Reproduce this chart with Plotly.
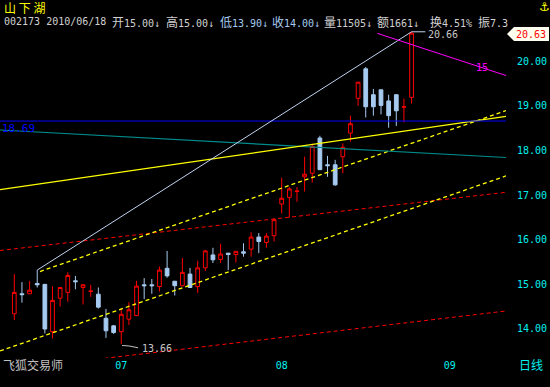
import plotly.graph_objects as go

# ---------------- data ----------------
idx = list(range(53))
opens = [14.34, 14.79, 14.79, 15.02, 15.00, 13.94, 14.69, 14.82, 15.08, 14.93,
         14.84, 14.78, 14.24, 14.07, 13.94, 14.22, 14.30, 14.99, 14.99, 14.95,
         15.36, 15.07, 14.97, 15.23, 14.95, 15.37, 15.66, 15.56, 15.70, 15.67,
         15.73, 15.79, 16.06, 15.94, 16.09, 16.80, 16.95, 17.08, 17.41, 17.49,
         18.28, 17.68, 17.68, 17.86, 18.39, 19.17, 19.83, 19.25, 19.36, 19.11,
         19.25, 18.97, 19.19]
highs = [15.23, 15.05, 15.08, 15.32, 15.00, 14.96, 14.93, 15.27, 15.19, 15.01,
         14.99, 14.93, 14.45, 14.09, 14.46, 14.60, 15.08, 15.14, 15.12, 15.40,
         15.75, 15.07, 15.59, 15.37, 15.53, 15.77, 15.82, 15.91, 15.70, 15.74,
         15.92, 16.17, 16.15, 16.15, 16.48, 17.39, 17.18, 17.18, 17.86, 18.15,
         18.33, 17.88, 17.79, 18.16, 18.78, 19.53, 19.87, 19.38, 19.36, 19.25,
         19.26, 19.16, 20.66]
lows = [14.20, 14.59, 14.79, 14.93, 13.90, 13.79, 14.50, 14.61, 14.89, 14.55,
        14.72, 14.46, 13.80, 13.89, 13.66, 14.09, 14.29, 14.67, 14.79, 14.84,
        15.15, 14.75, 14.96, 14.93, 14.81, 15.30, 15.48, 15.48, 15.32, 15.49,
        15.62, 15.62, 15.70, 15.82, 15.96, 16.59, 16.50, 16.85, 17.08, 17.28,
        17.57, 17.41, 17.21, 17.49, 18.20, 19.00, 18.74, 18.78, 18.81, 18.51,
        18.55, 18.63, 19.05]
closes = [14.82, 14.77, 14.87, 14.99, 14.00, 14.64, 14.93, 15.20, 15.06, 14.99,
          14.85, 14.49, 13.96, 13.92, 14.33, 14.43, 14.96, 14.97, 14.97, 15.32,
          15.19, 14.97, 15.27, 14.93, 15.37, 15.75, 15.55, 15.68, 15.67, 15.74,
          15.70, 16.06, 15.96, 16.08, 16.45, 16.93, 17.14, 17.09, 17.47, 18.09,
          17.57, 17.66, 17.23, 18.07, 18.60, 19.53, 18.98, 18.98, 19.01, 18.78,
          18.89, 18.98, 20.63]

month_ticks = [14, 35, 57]
month_labels = ["07", "08", "09"]
price_ticks = [14, 15, 16, 17, 18, 19, 20]
price_labels = ["14.00", "15.00", "16.00", "17.00", "18.00", "19.00", "20.00"]

# header quote fields (label, value)
quote_fields = [("开", "15.00↓"), ("高", "15.00↓"), ("低", "13.90↓"),
                ("收", "14.00↓"), ("量", "11505↓"), ("额", "1661↓"),
                ("换", "4.51%"), ("振", "7.3")]

# drawn trend lines (index, price)
white_x, white_y = [3, 52, 53.8], [15.32, 20.66, 20.66]
yellow_x, yellow_y = [-1.872, 64.36], [17.121, 18.764]
ydash_up_x, ydash_up_y = [3.36, 64.36], [15.288, 18.892]
ydash_lo_x, ydash_lo_y = [-1.872, 64.36], [13.507, 17.43]
rdash_up_x, rdash_up_y = [-1.872, 64.36], [15.759, 17.063]
rdash_lo_x, rdash_lo_y = [-1.872, 64.36], [13.065, 14.403]
teal_x, teal_y = [-1.872, 64.36], [18.459, 17.843]
hline_price = 18.66
magenta_x, magenta_y = [47.51, 64.36], [20.626, 19.68]
low_conn_x, low_conn_y = [14.1, 15.0, 16.2], [13.63, 13.62, 13.58]

# ---------------- figure ----------------
W, H = 550, 387
L, R, T, B = 0, 44, 30, 29
PW, PH = W - L - R, H - T - B
XR = [-1.872, 64.36]
YR = [13.35, 20.70]


def px(x):
    return (x - L) / PW


def py(y):
    return (H - B - y) / PH


UP = "#ff0000"
DOWN = "#a6caf0"

fig = go.Figure()
fig.add_trace(go.Candlestick(
    x=idx, open=opens, high=highs, low=lows, close=closes,
    increasing=dict(line=dict(color=UP, width=1), fillcolor="#000000"),
    decreasing=dict(line=dict(color=DOWN, width=1), fillcolor=DOWN),
    whiskerwidth=0, hoverinfo="skip", showlegend=False,
))


def add_line(xs, ys, color, dash="solid", width=1):
    fig.add_trace(go.Scatter(x=xs, y=ys, mode="lines",
                             line=dict(color=color, width=width, dash=dash),
                             hoverinfo="skip", showlegend=False))


add_line(rdash_up_x, rdash_up_y, "#ff0000", "4px,3px")
add_line(rdash_lo_x, rdash_lo_y, "#ff0000", "4px,3px")
add_line(ydash_up_x, ydash_up_y, "#ffff00", "4px,3px", 1.3)
add_line(ydash_lo_x, ydash_lo_y, "#ffff00", "4px,3px", 1.3)
add_line(teal_x, teal_y, "#008c8c", width=1.2)
add_line(yellow_x, yellow_y, "#ffff00", width=1.3)
add_line([XR[0], XR[1]], [hline_price, hline_price], "#0000ff", width=1)
add_line(white_x, white_y, "#c0d4f0")
add_line(magenta_x, magenta_y, "#ff00ff")
add_line(low_conn_x, low_conn_y, "#c0c0c0")

CJK = "Noto Sans CJK SC"
MONO = "DejaVu Sans Mono, Noto Sans CJK SC"


def ann(text, x, y, color, size=11, family=MONO, xanchor="left"):
    fig.add_annotation(text=text, x=px(x), y=py(y), xref="paper", yref="paper",
                       xanchor=xanchor, yanchor="middle", showarrow=False,
                       font=dict(color=color, size=size, family=family))


# title
ann("山 下 湖", 2, 8, "#ffff00", 12, CJK)

# quote header line
G = "#d0d0d0"
B2 = "#a6caf0"
ann("002173 2010/06/18", 2, 21, G, 10)
field_x = [111, 165, 219, 271, 323, 376, 429, 477]
for (lab, val), x in zip(quote_fields, field_x):
    col = B2 if lab in ("低", "收") else G
    txt = f"<span style='font-family:{CJK};font-size:12px'>{lab}</span>{val}"
    ann(txt, x - 1, 21, col, 10)

ann("⚓", 537, 7, "#ffff00", 12, "DejaVu Sans")
ann("20.66", 426, 34, "#c8c8c8", 10)
ann("13.66", 140, 348, "#c8c8c8", 10)
ann("15", 474, 67, "#ff00ff", 10)
ann("18.69", 0, 128, "#0000ff", 11)
ann("飞狐交易师", 1, 365, "#c0c0c0", 12, CJK)
ann("日线", 517, 365, "#00f0f0", 12, CJK)

# close price marker box on the right axis
pts = [(507, 34), (514, 27), (549, 27), (549, 41), (514, 41)]
path = "M " + " L ".join(f"{px(a)},{py(b)}" for a, b in pts) + " Z"
fig.add_shape(type="path", path=path, xref="paper", yref="paper",
              fillcolor="#fffff0", line=dict(width=0), layer="above")
ann(f"{closes[-1]:.2f}", 531, 34, "#ff0000", 10, xanchor="center")

fig.update_layout(
    width=W, height=H,
    margin=dict(l=L, r=R, t=T, b=B),
    paper_bgcolor="#000000", plot_bgcolor="#000000",
    showlegend=False,
    xaxis=dict(range=XR, showgrid=False, zeroline=False, showline=False,
               rangeslider=dict(visible=False), tickmode="array",
               tickvals=month_ticks, ticktext=month_labels, ticks="",
               tickfont=dict(color="#00f0f0", size=10, family=MONO),
               automargin=False, fixedrange=True),
    yaxis=dict(range=YR, side="right", showgrid=False, zeroline=False,
               showline=False, tickmode="array", tickvals=price_ticks,
               ticktext=price_labels, ticks="", ticklabelstandoff=10,
               tickfont=dict(color="#00f0f0", size=10, family=MONO),
               automargin=False, fixedrange=True),
)

fig.write_html("out.html",
               config={"displayModeBar": False, "staticPlot": True},
               post_script="document.body.style.margin='0px';"
                           "document.body.style.background='#000';")
